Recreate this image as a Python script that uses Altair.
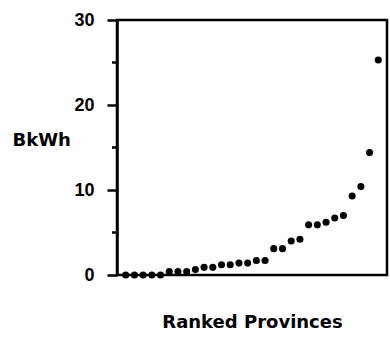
import altair as alt
import pandas as pd

# Ranked provinces (1..30) and electricity values in BkWh
ranks = list(range(1, 31))
bkwh = [0, 0, 0, 0, 0, 0.4, 0.4, 0.4, 0.65, 0.9,
        0.9, 1.2, 1.2, 1.4, 1.4, 1.7, 1.7, 3.1, 3.1, 4.0,
        4.2, 5.9, 5.9, 6.2, 6.7, 7.0, 9.3, 10.4, 14.4, 25.3]
major_ticks = [0, 10, 20, 30]
minor_ticks = [5, 15, 25]

df = pd.DataFrame({"rank": ranks, "bkwh": bkwh})
df_minor = pd.DataFrame({"v": minor_ticks})

TITLE_FONT = "DejaVu Sans"
LABEL_FONT = "Liberation Sans"

yscale = alt.Scale(domain=[0, 30], nice=False)

points = alt.Chart(df).mark_circle(size=50, color="black", opacity=1).encode(
    x=alt.X("rank:Q",
            scale=alt.Scale(domain=[0, 31], nice=False, zero=False),
            axis=alt.Axis(labels=False, ticks=False, domain=False, grid=False,
                          title="Ranked Provinces", titleFont=TITLE_FONT,
                          titleFontSize=18, titleFontWeight="bold",
                          titleColor="black", titlePadding=38)),
    y=alt.Y("bkwh:Q", scale=yscale,
            axis=alt.Axis(values=major_ticks, grid=False, domainColor="black",
                          domainWidth=2.5, tickColor="black", tickWidth=2.5,
                          tickSize=10,
                          labelFont=LABEL_FONT, labelFontSize=18,
                          labelFontWeight="bold", labelColor="black",
                          labelPadding=13,
                          title="BkWh", titleAngle=0, titleAlign="left",
                          titleBaseline="middle", titleX=-105, titleY=120,
                          titleFont=TITLE_FONT, titleFontSize=18,
                          titleFontWeight="bold", titleColor="black")),
)

minor = alt.Chart(df_minor).mark_rule(color="black", strokeWidth=2.5, clip=False).encode(
    x=alt.value(-5), x2=alt.value(0),
    y=alt.Y("v:Q", scale=yscale),
)

chart = alt.layer(points, minor).properties(
    width=270, height=255,
    autosize=alt.AutoSizeParams(type="none"),
    padding={"left": 117, "top": 20, "right": 3, "bottom": 62},
).configure(background="white").configure_view(
    stroke="black", strokeWidth=2.5
)

chart.save("out.html", embed_options={"renderer": "svg", "actions": False})
